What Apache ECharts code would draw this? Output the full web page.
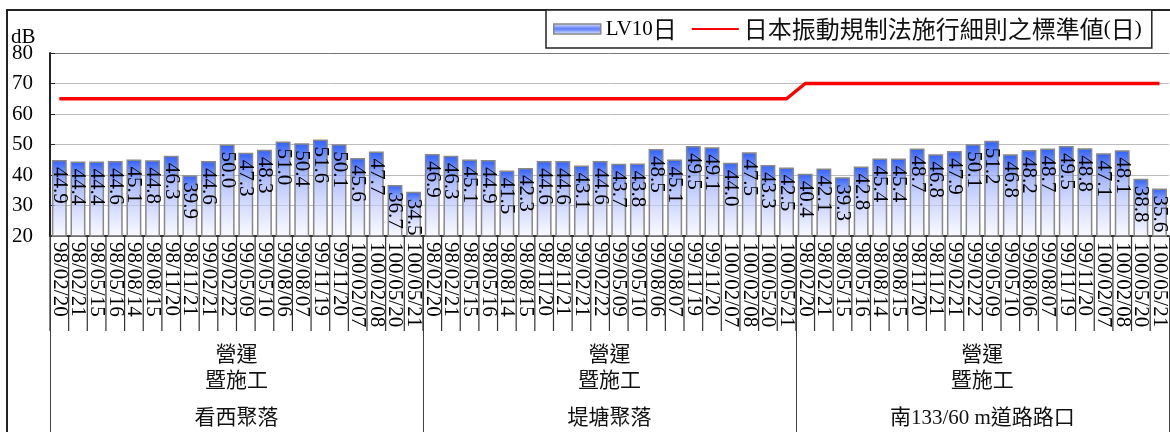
<!DOCTYPE html>
<html>
<head>
<meta charset="utf-8">
<script src="https://cdn.jsdelivr.net/npm/echarts@6/dist/echarts.min.js"></script>
<style>
html,body{margin:0;padding:0;background:#fff;}
#c{width:1170px;height:432px;}
</style>
</head>
<body>
<div id="c"></div>
<script>
// ---- data ----
const dates = ['98/02/20','98/02/21','98/05/15','98/05/16','98/08/14','98/08/15','98/11/20','98/11/21','99/02/21','99/02/22','99/05/09','99/05/10','99/08/06','99/08/07','99/11/19','99/11/20','100/02/07','100/02/08','100/05/20','100/05/21'];
const groups = ['看西聚落','堤塘聚落','南133/60 m道路路口'];
const groupPrefix = ['營運','暨施工'];
const valuesKanxi = [44.9,44.4,44.4,44.6,45.1,44.8,46.3,39.9,44.6,50.0,47.3,48.3,51.0,50.4,51.6,50.1,45.6,47.7,36.7,34.5];
const valuesDitang = [46.9,46.3,45.1,44.9,41.5,42.3,44.6,44.6,43.1,44.6,43.7,43.8,48.5,45.1,49.5,49.1,44.0,47.5,43.3,42.5];
const valuesNan133 = [40.4,42.1,39.3,42.8,45.4,45.4,48.7,46.8,47.9,50.1,51.2,46.8,48.2,48.7,49.5,48.8,47.1,48.1,38.8,35.6];
const standardByGroup = [65,65,70];
const yTicks = {min:20,max:80,interval:10};
const barName = 'LV10日';
const lineName = '日本振動規制法施行細則之標準値(日)';
const unitLabel = 'dB';

// ---- build ----
const groupValues = [valuesKanxi, valuesDitang, valuesNan133];
const categories = [];
const barData = [];
const lineData = [];
groupValues.forEach((vals, g) => {
  vals.forEach((v, i) => {
    categories.push(dates[i]);
    barData.push(v);
    lineData.push(standardByGroup[g]);
  });
});
const tickData = categories.map((c, i) => [i, yTicks.min]);

const FF = "'Liberation Serif','Noto Sans CJK TC',serif";
const CJK = "'Noto Sans CJK TC','Liberation Serif',sans-serif";

const chart = echarts.init(document.getElementById('c'), null, {renderer:'canvas'});
chart.setOption({
  animation:false,
  backgroundColor:'#fff',
  grid:{left:50,right:0,top:53,bottom:196},
  graphic:[
    {type:'rect', shape:{x:7,y:10,width:1200,height:500}, style:{fill:null,stroke:'#222',lineWidth:2}, z:-1, silent:true},
    {type:'text', left:11, top:27, style:{text:unitLabel, font:"21px 'Liberation Serif'", fill:'#000'}}
  ],
  legend:{
    left:546, top:10,
    padding:[7,10,7,7],
    itemWidth:47, itemHeight:10, itemGap:14,
    borderColor:'#222', borderWidth:1.5, backgroundColor:'#fff',
    data:[
      {name:barName, icon:'rect', itemStyle:{
        color:new echarts.graphic.LinearGradient(0,0,0,1,[{offset:0,color:'#e4e8ff'},{offset:0.5,color:'#5a7cff'},{offset:1,color:'#eef0ff'}]),
        borderColor:'#888', borderWidth:1.5}},
      {name:lineName, itemStyle:{opacity:0}}
    ],
    formatter:function(name){
      return name.replace(/([A-Za-z0-9()]+)|([^A-Za-z0-9()]+)/g, function(m, lat, cjk){
        return lat ? '{l|' + lat + '}' : '{c|' + cjk + '}';
      });
    },
    textStyle:{
      color:'#000',
      rich:{
        l:{fontFamily:"'Liberation Serif'", fontSize:21, color:'#000', lineHeight:26},
        c:{fontFamily:CJK, fontSize:24, color:'#111', lineHeight:26}
      }
    }
  },
  xAxis:[
    {
      type:'category', data:categories, boundaryGap:true,
      axisLine:{show:true,lineStyle:{color:'#333',width:2}},
      axisTick:{show:false},
      axisLabel:{interval:0, rotate:-90, margin:6, fontSize:21, fontFamily:FF, color:'#000'}
    },
    {
      type:'category', data:groups, boundaryGap:true, position:'bottom',
      axisLine:{show:false},
      axisTick:{show:true,interval:0,length:200,lineStyle:{color:'#444',width:1}},
      axisLabel:{
        interval:0, margin:106, verticalAlign:'top',
        formatter:function(v){ return '{a|' + groupPrefix[0] + '}\n{a|' + groupPrefix[1] + '}\n{b|' + v + '}'; },
        rich:{
          a:{fontFamily:FF, fontSize:21, lineHeight:26, color:'#111'},
          b:{fontFamily:FF, fontSize:21, lineHeight:48, color:'#111'}
        }
      }
    }
  ],
  yAxis:{
    type:'value', min:yTicks.min, max:yTicks.max, interval:yTicks.interval,
    axisLine:{show:true,lineStyle:{color:'#222',width:2}},
    axisTick:{show:true,inside:true,length:5,lineStyle:{color:'#222'}},
    axisLabel:{fontSize:21, fontFamily:FF, color:'#000', margin:17},
    splitLine:{show:true,lineStyle:{color:['#999','#bbb','#bbb','#bbb','#bbb','#bbb','#777'],width:1}}
  },
  series:[
    {
      name:barName, type:'bar', data:barData, barCategoryGap:'20%',
      itemStyle:{
        color:new echarts.graphic.LinearGradient(0,0,0,1,[
          {offset:0,color:'rgba(45,95,255,1)'},
          {offset:0.35,color:'rgba(150,170,255,0.75)'},
          {offset:1,color:'rgba(245,245,255,0.55)'}
        ]),
        borderColor:'#888', borderWidth:1.5
      },
      label:{
        show:true, position:'insideTop', distance:7, rotate:-90,
        align:'left', verticalAlign:'middle',
        fontSize:21, fontFamily:FF, color:'#000',
        formatter:function(p){ return p.value.toFixed(1); }
      },
      z:2
    },
    {
      name:lineName, type:'line', data:lineData, symbol:'none',
      lineStyle:{color:'#ff0000', width:3.5},
      itemStyle:{color:'#ff0000'},
      z:3
    },
    {
      type:'custom', data:tickData, clip:false, z:10,
      renderItem:function(params, api){
        const p = api.coord([api.value(0), api.value(1)]);
        const w = api.size([1, 0])[0];
        const x = p[0] - w / 2;
        return {type:'line', shape:{x1:x, y1:p[1], x2:x, y2:p[1] + 95},
                style:{stroke:'#333', lineWidth:1.2}};
      }
    }
  ]
});
</script>
</body>
</html>
